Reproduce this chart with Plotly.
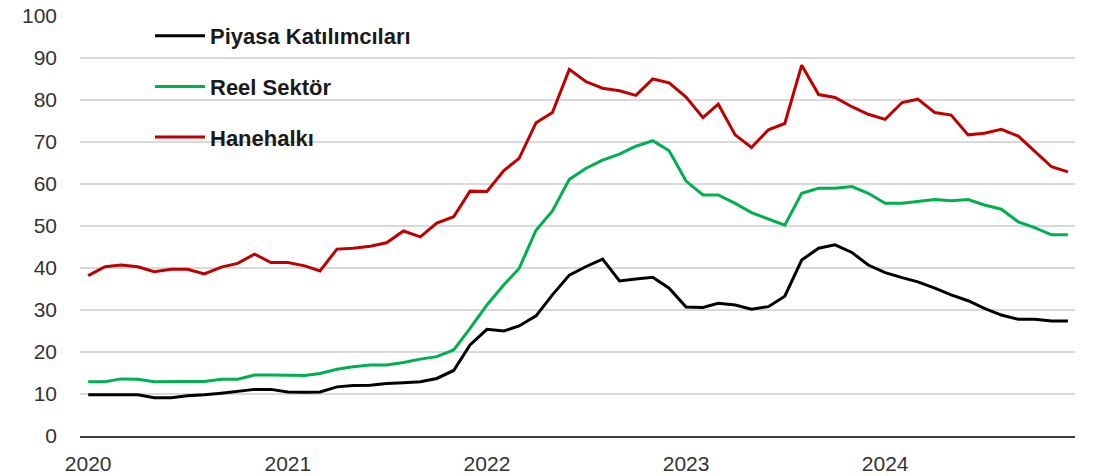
import plotly.graph_objects as go
import pandas as pd

months = pd.date_range("2020-01-01", "2024-12-01", freq="MS")

piyasa = [9.8, 9.8, 9.8, 9.8, 9.1, 9.1, 9.6, 9.8, 10.2, 10.6, 11.1, 11.1,
          10.5, 10.4, 10.5, 11.7, 12.0, 12.1, 12.5, 12.7, 12.9, 13.7, 15.6, 21.7,
          25.4, 25.0, 26.2, 28.6, 33.6, 38.3, 40.3, 42.1, 36.9, 37.4, 37.8, 35.2,
          30.7, 30.6, 31.6, 31.2, 30.2, 30.8, 33.3, 41.9, 44.7, 45.5, 43.7, 40.7,
          38.9, 37.7, 36.7, 35.2, 33.6, 32.2, 30.4, 28.8, 27.8, 27.8, 27.4, 27.4]

reel = [12.9, 12.9, 13.6, 13.5, 12.9, 13.0, 13.0, 13.0, 13.5, 13.5, 14.5, 14.5,
        14.5, 14.4, 14.9, 15.9, 16.5, 16.9, 16.9, 17.5, 18.3, 18.9, 20.5, 25.6,
        31.2, 36.0, 39.9, 49.0, 53.6, 61.1, 63.7, 65.7, 67.1, 69.0, 70.3, 67.9,
        60.7, 57.4, 57.4, 55.4, 53.2, 51.6, 50.2, 57.8, 59.0, 59.0, 59.4, 57.8,
        55.4, 55.4, 55.8, 56.3, 56.0, 56.3, 55.0, 54.0, 51.0, 49.6, 47.9, 47.9]

hane = [38.2, 40.3, 40.7, 40.3, 39.1, 39.7, 39.7, 38.6, 40.2, 41.1, 43.3, 41.3,
        41.3, 40.5, 39.3, 44.5, 44.7, 45.2, 46.0, 48.8, 47.4, 50.7, 52.2, 58.3,
        58.2, 63.2, 66.1, 74.6, 77.0, 87.3, 84.4, 82.8, 82.2, 81.1, 85.0, 84.1,
        80.7, 75.8, 79.0, 71.7, 68.7, 72.9, 74.4, 88.3, 81.3, 80.6, 78.4, 76.6,
        75.4, 79.4, 80.2, 77.0, 76.4, 71.7, 72.1, 73.0, 71.4, 67.7, 64.1, 62.9]

series_names = ["Piyasa Katılımcıları", "Reel Sektör", "Hanehalkı"]
series_values = [piyasa, reel, hane]
series_colors = ["#000000", "#00B050", "#C00000"]

# page body margin is removed in post_script, so figure coords = screen coords
L, T, PW, PH = 80, 16, 995, 420
W, H = 1112, 476

fig = go.Figure()
for i, (name, vals, col) in enumerate(zip(series_names, series_values, series_colors)):
    fig.add_trace(go.Scatter(
        x=months, y=vals, name=name, mode="lines",
        line=dict(color=col, width=3),
        legendgroup=f"g{i}",
    ))

def px(xs):
    return (xs - L) / PW

def py(ys):
    return (T + PH - ys) / PH

# white backing behind legend (covers gridlines, as in the original)
fig.add_shape(type="rect", xref="paper", yref="paper",
              x0=px(203), x1=px(456), y0=py(160), y1=py(8),
              fillcolor="white", line=dict(width=0), layer="between")

fig.update_layout(
    width=W, height=H,
    margin=dict(l=L, r=W - L - PW, t=T, b=H - T - PH),
    paper_bgcolor="white", plot_bgcolor="white",
    font=dict(family="Liberation Sans", color="#333333"),
    showlegend=True,
    legend=dict(
        x=px(150), y=py(15), xanchor="left", yanchor="top",
        bgcolor="rgba(0,0,0,0)", borderwidth=0,
        font=dict(family="Liberation Sans", size=22, color="#1a1a1a", weight="bold"),
        tracegroupgap=19, itemwidth=50,
    ),
    xaxis=dict(
        range=["2019-12-17", "2024-12-14"],
        tickvals=pd.date_range("2020-01-01", "2024-01-01", freq="YS"),
        tickformat="%Y",
        showgrid=False, zeroline=False,
        showline=True, linecolor="#404040", linewidth=2,
        tickfont=dict(size=21, color="#333333"),
        ticklabelstandoff=8,
        ticklabeloverflow="allow",
        automargin=False,
    ),
    yaxis=dict(
        range=[0, 100], dtick=10,
        showgrid=True, gridcolor="#d9d9d9", gridwidth=1.5,
        zeroline=False, showline=False,
        tickfont=dict(size=21, color="#333333"),
        ticklabelstandoff=22,
        ticklabeloverflow="allow",
        automargin=False,
    ),
)

fig.write_html("out.html", config={"displayModeBar": False},
               post_script="document.body.style.margin='0';")
